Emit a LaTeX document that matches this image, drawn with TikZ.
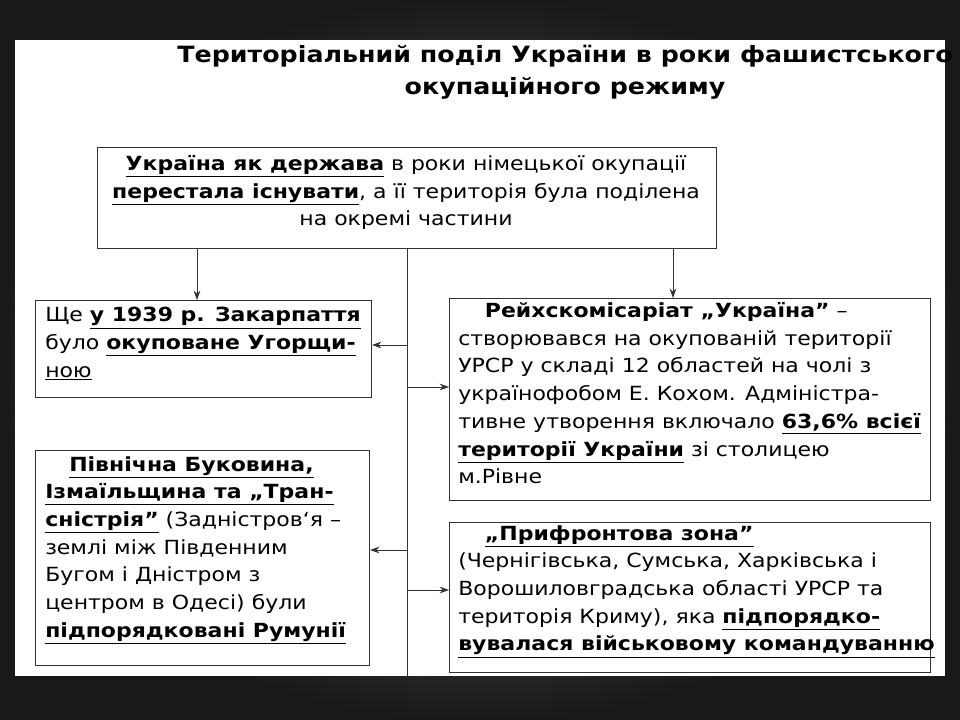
\documentclass[tikz,border=0pt]{standalone}
\usepackage{fontspec}
\setmainfont[FakeStretch=1.13]{DejaVu Sans}
\usetikzlibrary{arrows.meta}
\begin{document}
\begin{tikzpicture}[x=0.75pt,y=-0.75pt,
 box/.style={draw=black!80,line width=0.8pt},
 txt/.style={anchor=north west,align=left,inner sep=0pt,font=\fontsize{14.6}{20.8}\selectfont},
 arr/.style={-{Stealth[length=7pt,width=5pt]},line width=0.7pt,black!80},
 ln/.style={line width=0.7pt,black!80}]
\shade[outer color=black!90,inner color=black!55] (0,0) rectangle (960,720);
\useasboundingbox (0,0) rectangle (960,720);
\fill[white] (15,40) rectangle (945,676);
\node[font=\fontsize{16.8}{24}\selectfont\bfseries,align=center] (title) at (565,72) {Територіальний поділ України в роки фашистського\\окупаційного режиму};
\node[box,minimum width=619*0.75pt,minimum height=101*0.75pt,anchor=north west] (top) at (97,147) {};
\node[txt,align=center,anchor=north] (toptxt) at (406,155) {\underline{\textbf{Україна як держава}} в роки німецької окупації\\\underline{\textbf{перестала існувати}}, а її територія була поділена\\на окремі частини};
\node[box,minimum width=336*0.75pt,minimum height=97*0.75pt,anchor=north west] (l1) at (35,300) {};
\node[txt] (l1t) at (45,307) {Ще \underline{\textbf{у 1939 р. Закарпаття}}\\було \underline{\textbf{окуповане Угорщи-}}\\\underline{ною}};
\node[box,minimum width=481*0.75pt,minimum height=202*0.75pt,anchor=north west] (r1) at (449,298) {};
\node[txt] (r1t) at (458,302) {\hspace{20pt}\textbf{Рейхскомісаріат „Україна”} –\\створювався на окупованій території\\УРСР у складі 12 областей на чолі з\\українофобом Е. Кохом. Адміністра-\\тивне утворення включало \underline{\textbf{63,6\% всієї}}\\\underline{\textbf{території України}} зі столицею\\м.Рівне};
\node[box,minimum width=334*0.75pt,minimum height=215*0.75pt,anchor=north west] (l2) at (35,450) {};
\node[txt] (l2t) at (45,456) {\hspace{18pt}\underline{\textbf{Північна Буковина,}}\\\underline{\textbf{Ізмаїльщина та „Тран-}}\\\underline{\textbf{сністрія”}} (Задністров`я –\\землі між Південним\\Бугом і Дністром з\\центром в Одесі) були\\\underline{\textbf{підпорядковані Румунії}}};
\node[box,minimum width=481*0.75pt,minimum height=150*0.75pt,anchor=north west] (r2) at (449,522) {};
\node[txt] (r2t) at (458,525) {\hspace{20pt}\underline{\textbf{„Прифронтова зона”}}\\(Чернігівська, Сумська, Харківська і\\Ворошиловградська області УРСР та\\територія Криму), яка \underline{\textbf{підпорядко-}}\\\underline{\textbf{вувалася військовому командуванню}}};
\coordinate (vt) at (407,248);
\coordinate (vb) at (407,676);
\draw[ln] (vt) -- (vb);
\draw[arr] (197,248) -- (l1.north -| 197,0);
\draw[arr] (673,248) -- (r1.north -| 673,0);
\draw[arr] (407,345) -- (l1.east |- 0,345);
\draw[arr] (407,387) -- (r1.west |- 0,387);
\draw[arr] (407,550) -- (l2.east |- 0,550);
\draw[arr] (407,590) -- (r2.west |- 0,590);
\end{tikzpicture}
\end{document}
